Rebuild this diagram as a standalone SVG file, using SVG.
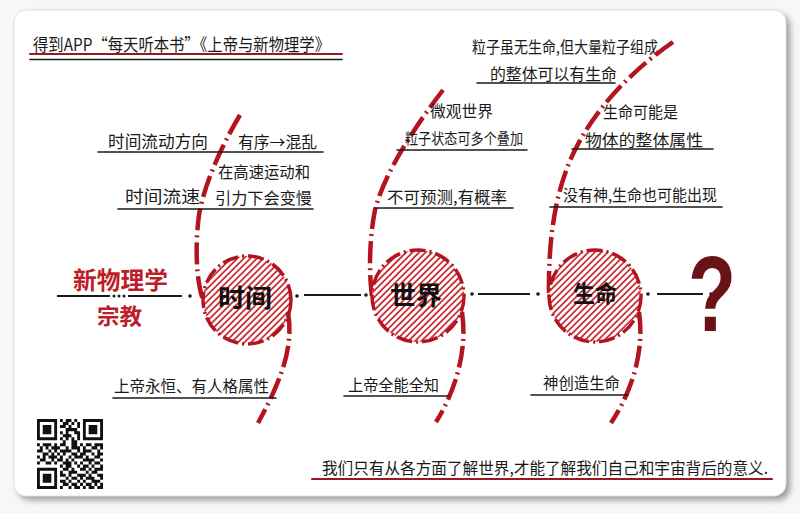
<svg xmlns="http://www.w3.org/2000/svg" width="800" height="513" viewBox="0 0 800 513">
<defs>
<style>
.t{font-family:"Noto Sans CJK SC","Noto Sans",sans-serif;fill:#1a1a1a;}
.red{fill:#bd1e28;font-weight:bold;}
.lbl{font-weight:bold;fill:#111;}
.ul{stroke:#1a1a1a;stroke-width:1.6;fill:none;stroke-linecap:round;}
.rul{stroke:#9e1620;stroke-width:2.2;fill:none;stroke-linecap:round;}
.tail{stroke:#b3141d;stroke-width:4.5;fill:none;stroke-dasharray:22 5 2 5;stroke-linecap:butt;}
.ring{fill:url(#hatch);stroke:#b3141d;stroke-width:3.5;stroke-dasharray:16 4 2 4;}
.ml{stroke:#1a1a1a;stroke-width:2;fill:none;}
.dot{fill:#1a1a1a;}
</style>
<pattern id="hatch" patternUnits="userSpaceOnUse" width="4.6" height="4.6" patternTransform="rotate(45)">
<rect width="4.6" height="4.6" fill="#fff"/>
<line x1="1" y1="0" x2="1" y2="4.6" stroke="#c4222b" stroke-width="1.7"/>
</pattern>
<filter id="sh" x="-5%" y="-5%" width="110%" height="110%"><feGaussianBlur stdDeviation="3"/></filter>
</defs>

<rect width="800" height="513" fill="#f7f7f7"/>
<rect x="18" y="14" width="772" height="486" rx="12" fill="#9a9a9a" filter="url(#sh)"/>
<rect x="14" y="10" width="772" height="486" rx="12" fill="#fff" stroke="#e2e2e2" stroke-width="1"/>

<g id="title">
<text class="t" x="33" y="51" font-size="17" textLength="297" lengthAdjust="spacingAndGlyphs">得到APP“每天听本书”《上帝与新物理学》</text>
<line class="rul" x1="30" y1="54" x2="342" y2="54"/>
<line class="ul" x1="30" y1="59.5" x2="342" y2="59.5"/>
</g>

<g id="note-top">
<text class="t" x="472" y="53" font-size="16" textLength="186" lengthAdjust="spacingAndGlyphs">粒子虽无生命,但大量粒子组成</text>
<text class="t" x="490" y="80" font-size="16" textLength="127" lengthAdjust="spacingAndGlyphs">的整体可以有生命</text>
<line class="ul" x1="477" y1="83" x2="615" y2="83"/>
</g>

<g id="connectors">
<line class="ml" x1="57" y1="296" x2="110" y2="296"/>
<circle class="dot" cx="114" cy="296" r="1.5"/><circle class="dot" cx="119" cy="296" r="1.5"/><circle class="dot" cx="124" cy="296" r="1.5"/>
<line class="ml" x1="128" y1="296" x2="182" y2="296"/>
<circle class="dot" cx="190" cy="296" r="1.8"/>
<circle class="dot" cx="297" cy="296" r="1.8"/>
<line class="ml" x1="304" y1="295" x2="361" y2="295"/>
<circle class="dot" cx="366" cy="295" r="1.8"/>
<circle class="dot" cx="472" cy="294" r="1.8"/>
<line class="ml" x1="478" y1="294" x2="530" y2="294"/>
<circle class="dot" cx="538" cy="294" r="1.8"/>
<circle class="dot" cx="648" cy="294" r="1.8"/>
<line class="ml" x1="657" y1="294" x2="703" y2="294"/>
<circle class="dot" cx="711" cy="294" r="1.8"/>
</g>

<g id="left-labels">
<text class="t red" x="73" y="289" font-size="24" textLength="95" lengthAdjust="spacingAndGlyphs">新物理学</text>
<text class="t red" x="97" y="324" font-size="22" textLength="45" lengthAdjust="spacingAndGlyphs">宗教</text>
</g>

<g id="node-time">
<path class="tail" d="M240 115 C225 140 205 180 199 215 C195 245 196 280 203 300"/>
<circle class="ring" cx="247" cy="300" r="44"/>
<path class="tail" d="M288 312 C293 342 286 372 258 423"/>
<text class="t lbl" x="218" y="307" font-size="25" textLength="54" lengthAdjust="spacingAndGlyphs">时间</text>
<text class="t" x="108" y="148" font-size="17" textLength="100" lengthAdjust="spacingAndGlyphs">时间流动方向</text>
<text class="t" x="238" y="148" font-size="16" textLength="79" lengthAdjust="spacingAndGlyphs">有序→混乱</text>
<line class="ul" x1="98" y1="152" x2="323" y2="152"/>
<text class="t" x="218" y="178" font-size="16" textLength="92" lengthAdjust="spacingAndGlyphs">在高速运动和</text>
<text class="t" x="125" y="203" font-size="17" textLength="75" lengthAdjust="spacingAndGlyphs">时间流速</text>
<text class="t" x="215" y="204" font-size="16" textLength="97" lengthAdjust="spacingAndGlyphs">引力下会变慢</text>
<line class="ul" x1="118" y1="209" x2="313" y2="209"/>
<text class="t" x="114" y="392" font-size="16" textLength="155" lengthAdjust="spacingAndGlyphs">上帝永恒、有人格属性</text>
<line class="ul" x1="113" y1="398" x2="276" y2="398"/>
</g>

<g id="node-world">
<path class="tail" d="M443 90 C420 120 385 170 375 210 C369 240 369 275 372 296"/>
<circle class="ring" cx="418" cy="296" r="46"/>
<path class="tail" d="M462 312 C467 345 459 385 436 422"/>
<text class="t lbl" x="390" y="305" font-size="26" textLength="52" lengthAdjust="spacingAndGlyphs">世界</text>
<text class="t" x="430" y="117" font-size="16" textLength="63" lengthAdjust="spacingAndGlyphs">微观世界</text>
<text class="t" x="405" y="144" font-size="15" textLength="118" lengthAdjust="spacingAndGlyphs">粒子状态可多个叠加</text>
<line class="ul" x1="397" y1="150" x2="527" y2="150"/>
<text class="t" x="387" y="203" font-size="16" textLength="120" lengthAdjust="spacingAndGlyphs">不可预测,有概率</text>
<line class="ul" x1="375" y1="208" x2="513" y2="208"/>
<text class="t" x="348" y="391" font-size="16" textLength="91" lengthAdjust="spacingAndGlyphs">上帝全能全知</text>
<line class="ul" x1="344" y1="396" x2="448" y2="396"/>
</g>

<g id="node-life">
<path class="tail" d="M673 42 C640 65 600 100 575 150 C555 190 548 240 549 296"/>
<circle class="ring" cx="595" cy="296" r="46"/>
<path class="tail" d="M639 312 C644 345 636 385 611 423"/>
<text class="t lbl" x="573" y="302" font-size="23" textLength="44" lengthAdjust="spacingAndGlyphs">生命</text>
<text class="t" x="603" y="118" font-size="16" textLength="75" lengthAdjust="spacingAndGlyphs">生命可能是</text>
<text class="t" x="585" y="146" font-size="16" textLength="118" lengthAdjust="spacingAndGlyphs">物体的整体属性</text>
<line class="ul" x1="572" y1="149" x2="713" y2="149"/>
<text class="t" x="563" y="201" font-size="16" textLength="154" lengthAdjust="spacingAndGlyphs">没有神,生命也可能出现</text>
<line class="ul" x1="550" y1="207" x2="722" y2="207"/>
<text class="t" x="543" y="389" font-size="16" textLength="77" lengthAdjust="spacingAndGlyphs">神创造生命</text>
<line class="ul" x1="531" y1="395" x2="628" y2="395"/>
</g>

<g id="node-question">
<text x="688" y="331" font-family="Liberation Sans, sans-serif" font-weight="bold" font-size="108" fill="#6a1317" textLength="48" lengthAdjust="spacingAndGlyphs">?</text>
</g>

<g id="conclusion">
<text class="t" x="322" y="474" font-size="16" textLength="446" lengthAdjust="spacingAndGlyphs">我们只有从各方面了解世界,才能了解我们自己和宇宙背后的意义.</text>
<line class="rul" x1="312" y1="479" x2="772" y2="479"/>
</g>

<g id="qr" transform="translate(37 419) scale(2.87 3.04)" fill="#111">
<path d="M0 0h7v7h-7zM1 1v5h5v-5zM2 2h3v3h-3zM16 0h7v7h-7zM17 1v5h5v-5zM18 2h3v3h-3zM0 16h7v7h-7zM1 17v5h5v-5zM2 18h3v3h-3z" fill-rule="evenodd"/>
<path d="M8 0h1v1h-1zM10 0h2v1h-2zM13 0h1v1h-1zM9 1h2v1h-2zM12 1h1v1h-1zM14 1h1v1h-1zM8 2h2v1h-2zM11 2h1v1h-1zM14 2h1v1h-1zM10 3h4v1h-4zM8 4h1v1h-1zM10 4h1v1h-1zM13 4h2v1h-2zM9 5h3v1h-3zM14 5h1v1h-1zM8 6h1v1h-1zM10 6h1v1h-1zM12 6h1v1h-1zM14 6h1v1h-1zM9 7h1v1h-1zM12 7h2v1h-2zM0 8h1v1h-1zM2 8h3v1h-3zM6 8h1v1h-1zM8 8h2v1h-2zM12 8h2v1h-2zM15 8h1v1h-1zM17 8h2v1h-2zM20 8h3v1h-3zM1 9h1v1h-1zM3 9h1v1h-1zM5 9h3v1h-3zM10 9h1v1h-1zM12 9h3v1h-3zM16 9h1v1h-1zM19 9h2v1h-2zM22 9h1v1h-1zM0 10h2v1h-2zM4 10h1v1h-1zM6 10h1v1h-1zM8 10h4v1h-4zM14 10h1v1h-1zM16 10h3v1h-3zM21 10h1v1h-1zM2 11h2v1h-2zM5 11h1v1h-1zM7 11h1v1h-1zM9 11h1v1h-1zM12 11h2v1h-2zM15 11h2v1h-2zM19 11h1v1h-1zM21 11h2v1h-2zM0 12h1v1h-1zM2 12h1v1h-1zM4 12h3v1h-3zM8 12h1v1h-1zM11 12h1v1h-1zM13 12h3v1h-3zM17 12h1v1h-1zM20 12h2v1h-2zM1 13h2v1h-2zM5 13h1v1h-1zM7 13h2v1h-2zM10 13h1v1h-1zM12 13h1v1h-1zM16 13h4v1h-4zM22 13h1v1h-1zM0 14h1v1h-1zM3 14h2v1h-2zM6 14h1v1h-1zM9 14h3v1h-3zM13 14h1v1h-1zM15 14h1v1h-1zM18 14h1v1h-1zM20 14h2v1h-2zM8 15h1v1h-1zM10 15h2v1h-2zM14 15h1v1h-1zM16 15h2v1h-2zM19 15h1v1h-1zM22 15h1v1h-1zM9 16h2v1h-2zM12 16h1v1h-1zM15 16h2v1h-2zM18 16h1v1h-1zM20 16h3v1h-3zM8 17h1v1h-1zM11 17h3v1h-3zM17 17h1v1h-1zM19 17h2v1h-2zM8 18h2v1h-2zM11 18h1v1h-1zM14 18h3v1h-3zM18 18h1v1h-1zM21 18h2v1h-2zM10 19h1v1h-1zM12 19h2v1h-2zM15 19h1v1h-1zM17 19h3v1h-3zM22 19h1v1h-1zM8 20h2v1h-2zM11 20h1v1h-1zM14 20h1v1h-1zM16 20h1v1h-1zM19 20h3v1h-3zM9 21h2v1h-2zM12 21h2v1h-2zM15 21h1v1h-1zM17 21h2v1h-2zM20 21h1v1h-1zM22 21h1v1h-1zM8 22h1v1h-1zM11 22h1v1h-1zM13 22h2v1h-2zM16 22h1v1h-1zM18 22h2v1h-2zM21 22h2v1h-2z"/>
</g>
</svg>
